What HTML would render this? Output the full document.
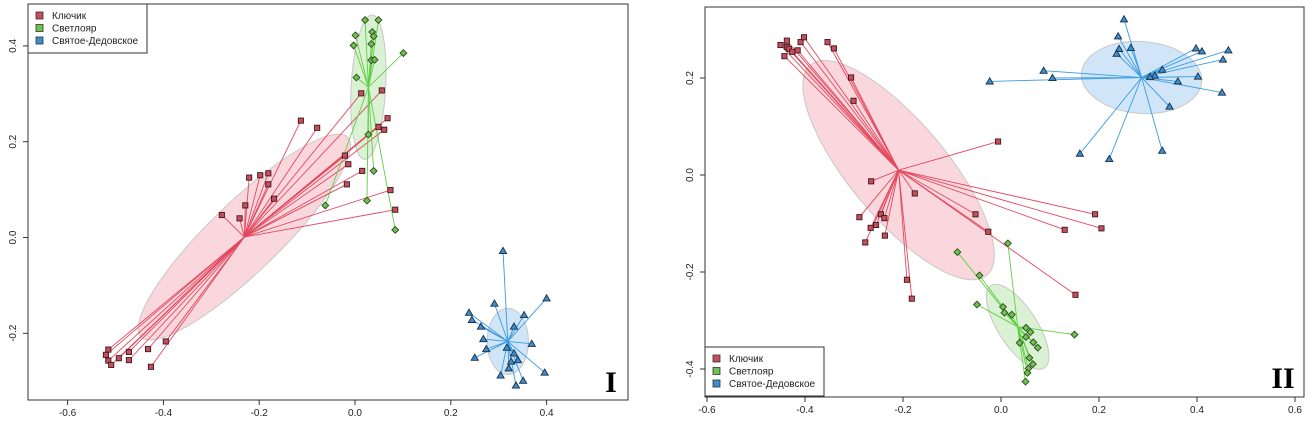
<!DOCTYPE html>
<html><head><meta charset="utf-8"><style>
body{margin:0;background:#fff;}
svg{display:block;font-family:"Liberation Sans",sans-serif;}
</style></head><body>
<svg id="chart" width="1311" height="426" viewBox="0 0 1311 426" xmlns="http://www.w3.org/2000/svg"></svg>
<script>
// ---- Panel I data ----
const p1KluchikX=[-0.113,-0.079,-0.221,-0.198,-0.181,-0.181,-0.169,-0.229,-0.278,-0.241,-0.021,-0.014,-0.017,0.015,0.013,0.056,0.068,0.061,0.049,0.074,0.084,-0.515,-0.520,-0.515,-0.509,-0.493,-0.472,-0.472,-0.432,-0.395,-0.426];
const p1KluchikY=[0.244,0.229,0.125,0.130,0.134,0.111,0.081,0.067,0.047,0.040,0.171,0.153,0.111,0.139,0.301,0.307,0.249,0.225,0.231,0.099,0.058,-0.234,-0.245,-0.257,-0.266,-0.252,-0.239,-0.256,-0.233,-0.217,-0.270];
const p1SvetX=[0.021,0.049,0.001,0.036,0.039,-0.003,0.034,0.034,0.041,0.101,0.003,0.028,0.039,-0.062,0.025,0.084];
const p1SvetY=[0.454,0.454,0.422,0.429,0.420,0.401,0.404,0.370,0.371,0.385,0.334,0.215,0.139,0.067,0.077,0.016];
const p1SvDedX=[0.309,0.291,0.400,0.238,0.244,0.263,0.353,0.332,0.268,0.369,0.274,0.317,0.332,0.250,0.326,0.340,0.321,0.304,0.396,0.336,0.351];
const p1SvDedY=[-0.028,-0.138,-0.127,-0.157,-0.172,-0.186,-0.162,-0.186,-0.212,-0.222,-0.233,-0.230,-0.242,-0.251,-0.259,-0.256,-0.273,-0.288,-0.282,-0.309,-0.299];
const p1CentX=[-0.231,0.028,0.319];
const p1CentY=[0.001,0.314,-0.217];
const p1EllA=[0.30,0.036,0.043];
const p1EllB=[0.073,0.151,0.069];
const p1EllAng=[44,-3,0];
// ---- Panel II data ----
const p2KluchikX=[-0.450,-0.437,-0.437,-0.433,-0.426,-0.415,-0.409,-0.402,-0.442,-0.354,-0.341,-0.306,-0.301,-0.006,-0.265,-0.176,-0.289,-0.245,-0.238,-0.255,-0.266,-0.277,-0.237,-0.052,-0.026,0.130,0.192,0.205,-0.192,-0.182,0.152];
const p2KluchikY=[0.268,0.277,0.264,0.260,0.254,0.257,0.274,0.284,0.245,0.274,0.261,0.201,0.153,0.069,-0.013,-0.038,-0.087,-0.081,-0.089,-0.103,-0.109,-0.139,-0.125,-0.081,-0.117,-0.113,-0.081,-0.110,-0.216,-0.255,-0.247];
const p2SvetX=[-0.089,-0.044,0.014,-0.049,0.004,0.007,0.022,0.051,0.060,0.038,0.051,0.066,0.075,0.058,0.065,0.056,0.054,0.050,0.150];
const p2SvetY=[-0.159,-0.207,-0.141,-0.267,-0.272,-0.284,-0.288,-0.315,-0.324,-0.346,-0.334,-0.345,-0.356,-0.377,-0.390,-0.399,-0.408,-0.426,-0.329];
const p2SvDedX=[0.251,0.239,0.241,0.265,0.236,0.398,0.410,0.464,0.453,0.087,0.105,-0.023,0.329,0.314,0.304,0.402,0.361,0.451,0.344,0.161,0.221,0.329];
const p2SvDedY=[0.321,0.286,0.260,0.262,0.250,0.261,0.255,0.257,0.238,0.215,0.200,0.193,0.217,0.205,0.202,0.203,0.193,0.170,0.141,0.044,0.033,0.050];
const p2CentX=[-0.209,0.034,0.287];
const p2CentY=[0.010,-0.313,0.201];
const p2EllA=[0.28,0.10,0.123];
const p2EllB=[0.10,0.04,0.074];
const p2EllAng=[-50,-57,-4];
const p1XTicks=[-0.6,-0.4,-0.2,0.0,0.2,0.4];
const p1YTicks=[-0.2,0.0,0.2,0.4];
const p2XTicks=[-0.6,-0.4,-0.2,0.0,0.2,0.4,0.6];
const p2YTicks=[-0.4,-0.2,0.0,0.2];
const groupNames=["Ключик","Светлояр","Святое-Дедовское"];

const NS="http://www.w3.org/2000/svg";
const svg=document.getElementById('chart');
function mk(tag,attrs,parent){const e=document.createElementNS(NS,tag);for(const k in attrs)e.setAttribute(k,attrs[k]);(parent||svg).appendChild(e);return e;}
const lineCol=["#e2485f","#5fcf45","#3a9be0"];
const fillCol=["#c94d5c","#6fc24f","#3b8fd0"];
const ellFill=["rgba(240,140,155,0.35)","rgba(150,215,130,0.35)","rgba(120,180,235,0.35)"];

function panel(cfg){
  const g=mk('g',{});
  
  
  const sx=v=>cfg.x0+cfg.kx*v, sy=v=>cfg.y0-cfg.ky*v;
  // ellipses
  for(let i=0;i<3;i++){
    const e=mk('ellipse',{cx:sx(cfg.cx[i]),cy:sy(cfg.cy[i]),rx:cfg.ea[i]*cfg.kx,ry:cfg.eb[i]*cfg.ky,
      transform:`rotate(${-cfg.ang[i]} ${sx(cfg.cx[i])} ${sy(cfg.cy[i])})`,fill:ellFill[i],stroke:"#c8c8c8","stroke-width":1},g);
    
    
  }
  // spokes and points
  for(let i=0;i<3;i++){
    const X=cfg.px[i],Y=cfg.py[i];
    for(let j=0;j<X.length;j++){
      const l=mk('line',{x1:sx(cfg.cx[i]),y1:sy(cfg.cy[i]),x2:sx(X[j]),y2:sy(Y[j]),stroke:lineCol[i],"stroke-width":0.9},g);
      
      
    }
  }
  for(let i=0;i<3;i++){
    const X=cfg.px[i],Y=cfg.py[i];
    for(let j=0;j<X.length;j++){
      const x=sx(X[j]),y=sy(Y[j]);let m;
      if(i===0) m=mk('rect',{x:x-2.6,y:y-2.6,width:5.2,height:5.2,fill:fillCol[0],stroke:"#3a1a1e","stroke-width":0.9},g);
      else if(i===1) m=mk('polygon',{points:`${x},${y-3.4} ${x+3.4},${y} ${x},${y+3.4} ${x-3.4},${y}`,fill:fillCol[1],stroke:"#2a4a1e","stroke-width":0.9},g);
      else m=mk('polygon',{points:`${x},${y-3.6} ${x+3.6},${y+2.6} ${x-3.6},${y+2.6}`,fill:fillCol[2],stroke:"#1a2e44","stroke-width":0.9},g);
      
      
    }
  }
  // frame
  const fr=mk('rect',{x:cfg.bx,y:cfg.by,width:cfg.bw,height:cfg.bh,fill:"none",stroke:"#333","stroke-width":1},g);
  
  
  const bot=cfg.by+cfg.bh;
  cfg.xt.forEach(v=>{
    mk('line',{x1:sx(v),y1:bot,x2:sx(v),y2:bot+5,stroke:"#333"},g);
    const t=mk('text',{x:sx(v),y:bot+16,"font-size":10,"text-anchor":"middle",fill:"#222"},g);
    t.textContent=v.toFixed(1);
    
    
  });
  cfg.yt.forEach(v=>{
    mk('line',{x1:cfg.bx-5,y1:sy(v),x2:cfg.bx,y2:sy(v),stroke:"#333"},g);
    const t=mk('text',{x:cfg.bx-12,y:sy(v),"font-size":10,"text-anchor":"middle",fill:"#222",transform:`rotate(-90 ${cfg.bx-12} ${sy(v)})`},g);
    t.textContent=v.toFixed(1);
    
    
  });
  // legend
  const lg=mk('g',{},g);
  
  
  mk('rect',{x:cfg.lx,y:cfg.ly,width:119,height:49,fill:"#fff",stroke:"#333"},lg);
  for(let i=0;i<3;i++){
    mk('rect',{x:cfg.lx+8,y:cfg.ly+8+i*12.5,width:7,height:7,fill:fillCol[i],stroke:"#333","stroke-width":0.8},lg);
    const t=mk('text',{x:cfg.lx+24,y:cfg.ly+15+i*12.5,"font-size":10,fill:"#222"},lg);
    t.textContent=groupNames[i];
    
    
  }
  const pl=mk('text',{x:cfg.labX,y:cfg.labY,"font-size":30,"font-weight":"bold","font-family":"Liberation Serif, serif",fill:"#000","text-anchor":"middle"},g);
  pl.textContent=cfg.label;
  
  
}
panel({name:'panel-1',x0:355,y0:237.5,kx:479,ky:479,bx:28,by:4,bw:600,bh:396,
  px:[p1KluchikX,p1SvetX,p1SvDedX],py:[p1KluchikY,p1SvetY,p1SvDedY],cx:p1CentX,cy:p1CentY,ea:p1EllA,eb:p1EllB,ang:p1EllAng,
  xt:p1XTicks,yt:p1YTicks,lx:28,ly:4,label:'I',labX:611,labY:392});
panel({name:'panel-2',x0:1001,y0:175,kx:490,ky:485,bx:705,by:7,bw:599,bh:390,
  px:[p2KluchikX,p2SvetX,p2SvDedX],py:[p2KluchikY,p2SvetY,p2SvDedY],cx:p2CentX,cy:p2CentY,ea:p2EllA,eb:p2EllB,ang:p2EllAng,
  xt:p2XTicks,yt:p2YTicks,lx:705,ly:347,label:'II',labX:1283,labY:388});
</script>
</body></html>
